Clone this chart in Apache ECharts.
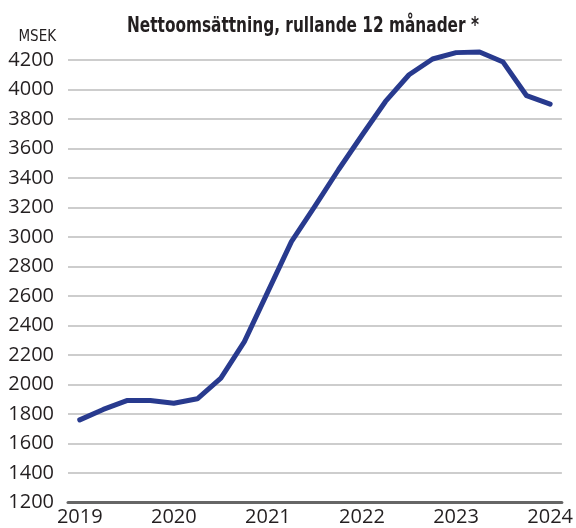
<!DOCTYPE html>
<html>
<head>
<meta charset="utf-8">
<script src="https://cdn.jsdelivr.net/npm/echarts@6/dist/echarts.min.js"></script>
<style>
html,body{margin:0;padding:0;background:#fff;}
#chart{width:576px;height:528px;}
</style>
</head>
<body>
<div id="chart"></div>
<script>
// Rolling 12-month net sales, quarterly points (MSEK)
var categories = ['2019 Q1','2019 Q2','2019 Q3','2019 Q4',
                  '2020 Q1','2020 Q2','2020 Q3','2020 Q4',
                  '2021 Q1','2021 Q2','2021 Q3','2021 Q4',
                  '2022 Q1','2022 Q2','2022 Q3','2022 Q4',
                  '2023 Q1','2023 Q2','2023 Q3','2023 Q4',
                  '2024 Q1'];
var netSales = [1760, 1831, 1891, 1891, 1873, 1903, 2043, 2291, 2630, 2969,
                3210, 3456, 3690, 3919, 4100, 4207, 4250, 4254, 4186, 3958, 3901];
var yTicks = {min: 1200, max: 4200, interval: 200};
var titleText = 'Nettoomsättning, rullande 12 månader *';

var chart = echarts.init(document.getElementById('chart'), null, {renderer: 'canvas'});
chart.setOption({
  animation: false,
  backgroundColor: '#ffffff',
  graphic: [{
    type: 'text',
    left: 127,
    top: 15,
    scaleX: 0.793,
    style: {
      text: titleText,
      fontFamily: '"DejaVu Sans Condensed", "DejaVu Sans"',
      fontWeight: 'bold',
      fontSize: 21.5,
      fill: '#231f20'
    }
  }],
  grid: {left: 68, right: 14, top: 60, bottom: 25.5, containLabel: false},
  xAxis: {
    type: 'category',
    data: categories,
    boundaryGap: true,
    axisLine: {show: true, lineStyle: {color: '#666666', width: 3}},
    axisTick: {show: false},
    axisLabel: {
      interval: 3,
      margin: 5,
      fontFamily: '"Open Sans"',
      fontSize: 20,
      color: '#231f20',
      formatter: function (v) { return v.slice(0, 4); }
    },
    splitLine: {show: false}
  },
  yAxis: {
    type: 'value',
    min: yTicks.min,
    max: yTicks.max,
    interval: yTicks.interval,
    name: 'MSEK',
    nameLocation: 'end',
    nameGap: 15,
    nameTextStyle: {
      fontFamily: '"DejaVu Sans Condensed"',
      fontSize: 15,
      color: '#231f20',
      align: 'right',
      padding: [0, 12, 0, 0]
    },
    axisLine: {show: false},
    axisTick: {show: false},
    axisLabel: {
      margin: 14,
      fontFamily: '"Open Sans"',
      fontSize: 20,
      color: '#231f20',
      formatter: function (v) { return String(v); }
    },
    splitLine: {show: true, lineStyle: {color: '#bdbdbd', width: 1.5}}
  },
  series: [{
    type: 'line',
    data: netSales,
    symbol: 'none',
    clip: false,
    lineStyle: {color: '#283a8e', width: 5, join: 'round', cap: 'round'},
    smooth: false
  }]
});
</script>
</body>
</html>
